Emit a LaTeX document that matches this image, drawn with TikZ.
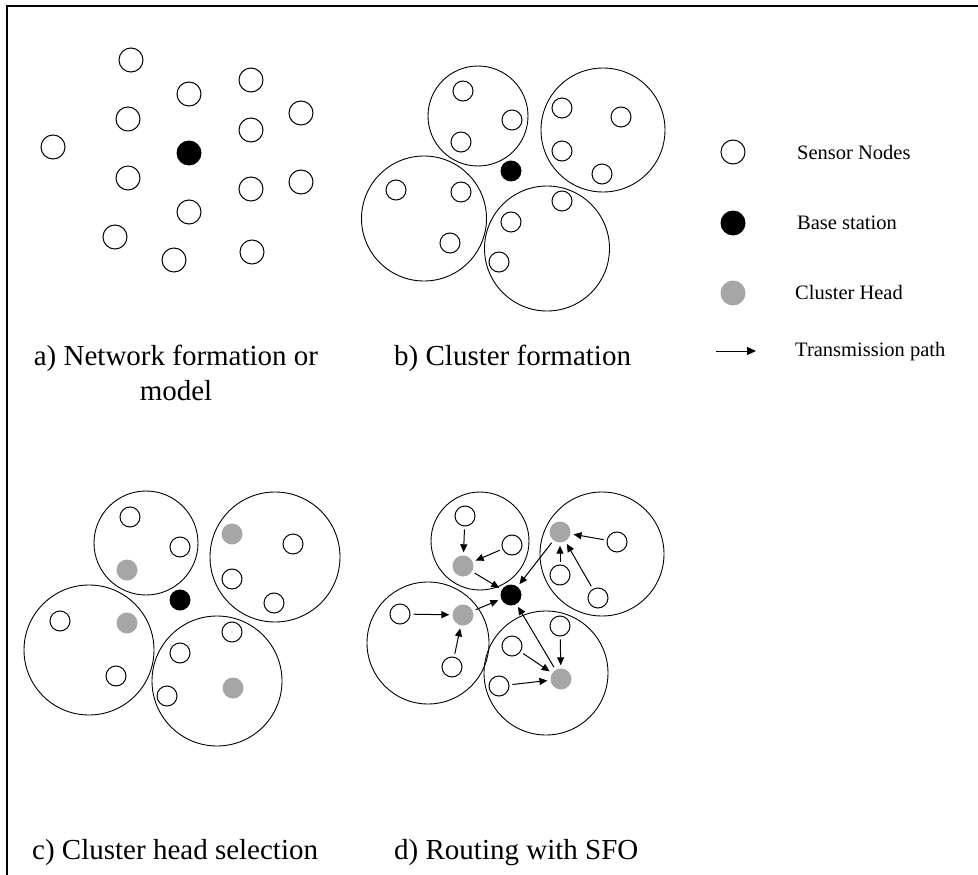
\documentclass[tikz,border=0pt]{standalone}
\usepackage{fontspec}
\setmainfont{Liberation Serif}
\usetikzlibrary{arrows.meta}
\definecolor{chgray}{RGB}{166,166,166}
\begin{document}
\begin{tikzpicture}[x=1pt,y=-1pt,
 sn/.style={circle,draw=black,line width=1pt,fill=white,inner sep=0pt,minimum size=20pt},
 bigsn/.style={sn,minimum size=24pt},
 bsn/.style={circle,fill=black,inner sep=0pt,minimum size=21pt},
 bigbsn/.style={bsn,minimum size=25pt},
 chn/.style={circle,fill=chgray,inner sep=0pt,minimum size=21pt},
 clus/.style={circle,draw=black,line width=0.9pt,inner sep=0pt,minimum size=#1},
 tx/.style={line width=1pt,-{Triangle[length=8pt,width=7pt]},shorten <=3pt,shorten >=3pt},
 captxt/.style={anchor=base west,inner sep=0pt,font=\fontsize{29}{35}\selectfont},
 legtxt/.style={anchor=base west,inner sep=0pt,font=\fontsize{20.5}{24}\selectfont}]
\useasboundingbox (0,0) rectangle (978,875);
\draw[line width=2pt] (978,6.5) -- (7.3,6.5) -- (7.3,875);

% ---------- panel a ----------
\node[bigsn] (a1) at (131,60) {};
\node[bigsn] (a2) at (189,94) {};
\node[bigsn] (a3) at (251,80) {};
\node[bigsn] (a4) at (128,119) {};
\node[bigsn] (a5) at (251,130) {};
\node[bigsn] (a6) at (301,113) {};
\node[bigsn] (a7) at (53,147) {};
\node[bigbsn] (aBS) at (189,153) {};
\node[bigsn] (a8) at (128,178) {};
\node[bigsn] (a9) at (251,189) {};
\node[bigsn] (a10) at (301,182) {};
\node[bigsn] (a11) at (189,212) {};
\node[bigsn] (a12) at (115,237) {};
\node[bigsn] (a13) at (174,260) {};
\node[bigsn] (a14) at (252,252) {};

% ---------- panel b ----------
\node[clus=100pt] (bT) at (478,116) {};
\node[clus=124pt] (bR) at (603,130) {};
\node[clus=125pt] (bL) at (424,218.5) {};
\node[clus=125pt] (bB) at (547,248.5) {};
\node[sn] (b1) at (463,91) {};
\node[sn] (b2) at (512,120) {};
\node[sn] (b3) at (461,142) {};
\node[sn] (b4) at (562,108) {};
\node[sn] (b5) at (621,117) {};
\node[sn] (b6) at (562,151) {};
\node[sn] (b7) at (602,174) {};
\node[bsn] (bBS) at (511,171) {};
\node[sn] (b8) at (396,190) {};
\node[sn] (b9) at (461,192) {};
\node[sn] (b10) at (450,243) {};
\node[sn] (b11) at (562,201) {};
\node[sn] (b12) at (511,222) {};
\node[sn] (b13) at (499,262) {};

% ---------- panel c ----------
\node[clus=104pt] (cT) at (146,543) {};
\node[clus=130pt] (cR) at (275,557) {};
\node[clus=130pt] (cL) at (89,650) {};
\node[clus=130pt] (cB) at (217,681) {};
\node[sn] (c1) at (130,517) {};
\node[sn] (c2) at (180,547) {};
\node[chn] (c3) at (127,570) {};
\node[chn] (c4) at (232,534) {};
\node[sn] (c5) at (293,544) {};
\node[sn] (c6) at (232,579) {};
\node[sn] (c7) at (274,603) {};
\node[bsn] (cBS) at (180,600) {};
\node[sn] (c8) at (60,621) {};
\node[chn] (c9) at (127,623) {};
\node[sn] (c10) at (116,676) {};
\node[sn] (c11) at (232,632) {};
\node[sn] (c12) at (180,653) {};
\node[chn] (c13) at (233,688) {};
\node[sn] (c14) at (167,696) {};

% ---------- panel d ----------
\node[clus=98pt] (dT) at (480,541) {};
\node[clus=124pt] (dR) at (602,554) {};
\node[clus=122pt] (dL) at (428,643) {};
\node[clus=124pt] (dB) at (546,673) {};
\node[sn] (d1) at (465,516) {};
\node[chn] (d2) at (463,566) {};
\node[sn] (d3) at (512,545) {};
\node[chn] (d4) at (560,532) {};
\node[sn] (d5) at (617,542) {};
\node[sn] (d6) at (560,575) {};
\node[sn] (d7) at (598,598) {};
\node[bsn] (dBS) at (511,595) {};
\node[sn] (d8) at (400,614) {};
\node[chn] (d9) at (463,615) {};
\node[sn] (d10) at (452,667) {};
\node[sn] (d11) at (560,626) {};
\node[sn] (d12) at (512,646) {};
\node[chn] (d13) at (561,679) {};
\node[sn] (d14) at (499,686) {};

\draw[tx] (d1) -- (d2);
\draw[tx] (d3) -- (d2);
\draw[tx] (d2) -- (dBS);
\draw[tx] (d8) -- (d9);
\draw[tx] (d10) -- (d9);
\draw[tx] (d9) -- (dBS);
\draw[tx] (d5) -- (d4);
\draw[tx] (d6) -- (d4);
\draw[tx] (d7) -- (d4);
\draw[tx] (d4) -- (dBS);
\draw[tx] (d11) -- (d13);
\draw[tx] (d12) -- (d13);
\draw[tx] (d14) -- (d13);
\draw[tx] (d13) -- (dBS);

% ---------- legend ----------
\node[bigsn] (lS) at (733,152) {};
\node[bigbsn] (lB) at (733,223) {};
\node[chn,minimum size=25pt] (lC) at (733,293) {};
\coordinate (lA1) at (716,351);
\coordinate (lA2) at (756,351);
\draw[line width=1pt,-{Triangle[length=9pt,width=8pt]}] (lA1) -- (lA2);
\node[legtxt] (tS) at (797,159) {Sensor Nodes};
\node[legtxt] (tB) at (797,229) {Base station};
\node[legtxt] (tC) at (795,299) {Cluster Head};
\node[legtxt] (tA) at (795,356) {Transmission path};

% ---------- captions ----------
\node[captxt,anchor=base,align=center] (capA) at (176,400) {a) Network formation or\\model};
\node[captxt] (capB) at (394,365) {b) Cluster formation};
\node[captxt] (capC) at (32,859) {c) Cluster head selection};
\node[captxt] (capD) at (394,859) {d) Routing with SFO};
\end{tikzpicture}
\end{document}
